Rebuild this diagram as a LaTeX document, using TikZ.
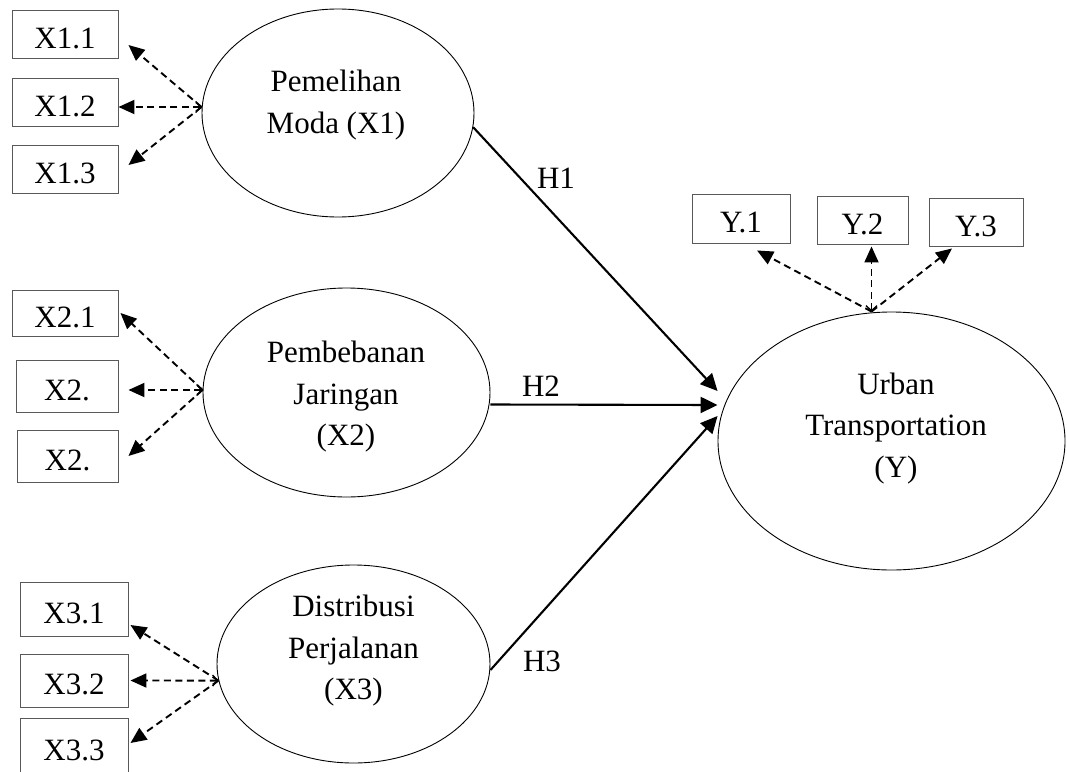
\documentclass[tikz,border=0pt]{standalone}
\usepackage{fontspec}
\setmainfont{Liberation Serif}
\usetikzlibrary{shapes.geometric,arrows.meta}
\begin{document}
\begin{tikzpicture}[x=1pt,y=1pt,
  every node/.style={font=\fontsize{31pt}{41.5pt}\selectfont},
  ind/.style={draw=black!65, line width=0.9pt, rectangle, inner sep=0pt, text height=28pt, text depth=0pt},
  latent/.style={draw=black, line width=0.9pt, ellipse, inner sep=0pt},
  ltext/.style={align=center, inner sep=0pt},
  hlabel/.style={inner sep=0pt},
  load/.style={line width=1.9pt, dash pattern=on 7pt off 4.5pt, -{Triangle[length=16pt,width=14pt]}},
  loadm/.style={line width=1.9pt, dash pattern=on 7pt off 4.5pt, {Straight Barb[length=5pt,width=11pt,line width=1.3pt]}-{Triangle[length=16pt,width=14pt]}},
  hyp/.style={line width=2.1pt, -{Triangle[length=17pt,width=16pt]}}
]
\useasboundingbox (0,0) rectangle (1067,-771);

% indicator boxes
\node[ind, minimum width=106pt, minimum height=48pt] (x11) at (65,-34) {X1.1};
\node[ind, minimum width=106pt, minimum height=48pt] (x12) at (65,-102) {X1.2};
\node[ind, minimum width=106pt, minimum height=48pt] (x13) at (65,-169) {X1.3};
\node[ind, minimum width=106pt, minimum height=46pt] (x21) at (65,-313) {X2.1};
\node[ind, minimum width=102pt, minimum height=52pt] (x22) at (67,-386) {X2.};
\node[ind, minimum width=101pt, minimum height=52pt] (x23) at (67.5,-456) {X2.};
\node[ind, minimum width=108pt, minimum height=54pt] (x31) at (74,-609) {X3.1};
\node[ind, minimum width=108pt, minimum height=53pt] (x32) at (74,-680.5) {X3.2};
\node[ind, minimum width=108pt, minimum height=56pt] (x33) at (74,-746) {X3.3};
\node[ind, minimum width=98pt, minimum height=49pt] (y1) at (741,-218.5) {Y.1};
\node[ind, minimum width=91pt, minimum height=48pt] (y2) at (862.5,-220) {Y.2};
\node[ind, minimum width=94pt, minimum height=48pt] (y3) at (976,-222) {Y.3};

% latent variables
\node[latent, minimum width=272pt, minimum height=208pt] (x1) at (338,-113) {};
\node[latent, minimum width=287pt, minimum height=209pt] (x2) at (346.5,-392.5) {};
\node[latent, minimum width=273pt, minimum height=198pt] (x3) at (353.5,-664) {};
\node[latent, minimum width=347pt, minimum height=258pt] (yy) at (891.5,-441) {};

\node[ltext] (x1t) at (336,-105) {Pemelihan\\Moda (X1)};
\node[ltext] (x2t) at (346,-397) {Pembebanan\\Jaringan\\(X2)};
\node[ltext] (x3t) at (353.5,-651) {Distribusi\\Perjalanan\\(X3)};
\node[ltext] (yt) at (896,-428.5) {Urban\\Transportation\\(Y)};

% loadings X1
\draw[load] ([yshift=6pt]x1.west) -- ([xshift=10pt,yshift=-11pt]x11.east);
\draw[loadm] ([yshift=6pt]x1.west) -- ([yshift=-5pt]x12.east);
\draw[load] ([yshift=6pt]x1.west) -- ([xshift=10pt,yshift=4pt]x13.east);

% loadings X2
\draw[load] ([yshift=2.5pt]x2.west) -- ([xshift=2pt]x21.east);
\draw[loadm] ([yshift=2.5pt]x2.west) -- ([xshift=10pt,yshift=-4pt]x22.east);
\draw[load] ([yshift=2.5pt]x2.west) -- ([xshift=10pt]x23.east);

% loadings X3
\draw[load] (x3.187) -- ([xshift=2pt,yshift=-16pt]x31.east);
\draw[loadm] (x3.187) -- ([xshift=2pt]x32.east);
\draw[load] (x3.187) -- ([xshift=2pt,yshift=3pt]x33.east);

% loadings Y
\draw[load] ([xshift=-20pt]yy.north) -- ([xshift=16pt,yshift=-7pt]y1.south);
\draw[loadm] ([xshift=-20pt]yy.north) -- ([xshift=9pt,yshift=-2pt]y2.south);
\draw[load] ([xshift=-20pt]yy.north) -- ([xshift=-24pt,yshift=-2pt]y3.south);

% hypotheses
\draw[hyp] (x1.354) -- ([yshift=50pt]yy.west);
\draw[hyp] ([yshift=-12pt]x2.east) -- ([yshift=36pt]yy.west);
\draw[hyp] ([yshift=-6pt]x3.east) -- ([yshift=25pt]yy.west);

\node[hlabel] (h1) at (556,-178) {H1};
\node[hlabel] (h2) at (541,-386) {H2};
\node[hlabel] (h3) at (542,-661) {H3};
\end{tikzpicture}
\end{document}
